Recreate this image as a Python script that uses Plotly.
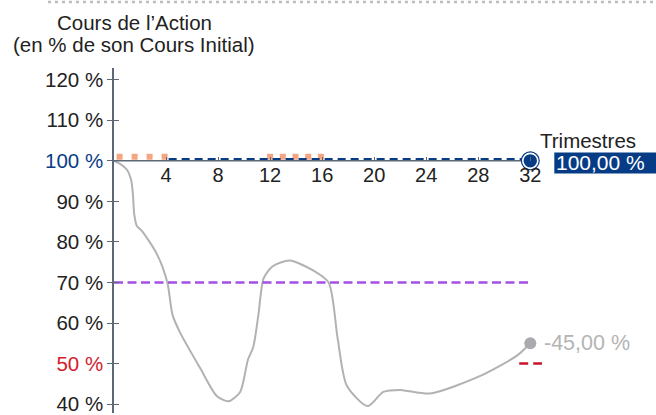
import plotly.graph_objects as go

# ---------------- data ----------------
path_q = [0, 0.5, 1.0, 1.3, 1.45, 1.55, 1.75, 2.2, 3.3, 4.1, 4.5, 5.1, 6.6, 7.9, 8.8, 9.7, 10.3,
          10.7, 11.1, 11.5, 12.2, 13.5, 15.3, 16.5, 17.2, 17.9, 19.5, 20.7, 22, 24.3, 28.2, 31, 32]
path_pct = [100, 99.2, 97.8, 95.5, 92, 87, 84, 82.5, 77, 70, 62, 57.5, 49, 42, 40.7, 43, 51,
            54, 62, 71, 74, 75.4, 73, 70, 56, 44.5, 39.5, 43, 43.5, 42.6, 47, 52, 55]

initial_level = 100
coupon_barrier = 70
capital_barrier = 50
final_q = 32
final_pct = 55
final_label = "-45,00 %"
autocall_label = "100,00 %"

obs_window1 = [0.2, 4.2]
obs_window2 = [11.77, 16.23]
autocall_line_q = [4.2, 32]
barrier_line_q = [0, 32]
capital_line_q = [31.15, 32.9]

x_ticks = [4, 8, 12, 16, 20, 24, 28, 32]
y_ticks = [40, 50, 60, 70, 80, 90, 100, 110, 120]
y_tick_text = ["40 %", "<span style='color:#d4202c'>50 %</span>", "60 %", "70 %", "80 %",
               "90 %", "<span style='color:#0a3d87'>100 %</span>", "110 %", "120 %"]

title_line1 = "Cours de l\u2019Action"
title_line2 = "(en % de son Cours Initial)"
x_title = "Trimestres"

# ---------------- style ----------------
NAVY = "#063c85"
ORANGE = "#f4a582"
PURPLE = "#a64ee6"
RED = "#c8152d"
GRAY = "#b2b2b2"
AXIS = "#5d6876"
TXT = "#222222"
FONT = "Liberation Sans"
ORANGE_OFFSET = 1.0
NAVY_OFFSET = 0.4

XR = [0, 32.9]
YR = [37.8, 122.9]
L, T = 114, 68
W, H = 656, 415
plot_w = (XR[1] - XR[0]) * 13
R = W - L - plot_w
plot_h = H - T


def py(px):
    """paper y for a pixel row measured from the top"""
    return 1 + (T - px) / plot_h


def pxx(px):
    """paper x for a pixel column"""
    return (px - L) / plot_w


fig = go.Figure()

# stock path
fig.add_trace(go.Scatter(x=path_q, y=path_pct, mode="lines",
                         line=dict(color=GRAY, width=2, shape="spline", smoothing=0.7),
                         hoverinfo="skip", showlegend=False))
# coupon barrier
fig.add_trace(go.Scatter(x=barrier_line_q, y=[coupon_barrier] * 2, mode="lines",
                         line=dict(color=PURPLE, width=2.6, dash="9px,4.5px"),
                         showlegend=False))
# capital barrier
fig.add_trace(go.Scatter(x=capital_line_q, y=[capital_barrier] * 2, mode="lines",
                         line=dict(color=RED, width=2.6, dash="9px,5px"),
                         showlegend=False))
# observation windows
for win, dash in ((obs_window1, "6px,9px"), (obs_window2, "6px,6.7px")):
    fig.add_trace(go.Scatter(x=win, y=[initial_level + ORANGE_OFFSET] * 2, mode="lines",
                             line=dict(color=ORANGE, width=6, dash=dash), showlegend=False))
# autocall line
fig.add_trace(go.Scatter(x=autocall_line_q, y=[initial_level + NAVY_OFFSET] * 2, mode="lines",
                         line=dict(color=NAVY, width=2.6, dash="8px,5px"), showlegend=False))
# x-axis baseline at 100 %
fig.add_trace(go.Scatter(x=[0, final_q], y=[initial_level] * 2, mode="lines",
                         line=dict(color=AXIS, width=1.5), showlegend=False))
# final markers
fig.add_trace(go.Scatter(x=[final_q], y=[final_pct], mode="markers",
                         marker=dict(color="#a9abae", size=12), showlegend=False))
fig.add_trace(go.Scatter(x=[final_q], y=[initial_level], mode="markers",
                         marker=dict(color=NAVY, size=19), showlegend=False))
fig.add_trace(go.Scatter(x=[final_q], y=[initial_level], mode="markers",
                         marker=dict(color=NAVY, size=15, line=dict(color="white", width=1.6)),
                         showlegend=False))
# invisible trace for the inside-tick overlay axis
fig.add_trace(go.Scatter(x=[0], y=[initial_level], yaxis="y2", mode="markers",
                         marker=dict(opacity=0), hoverinfo="skip", showlegend=False))

fig.update_layout(
    width=W, height=H,
    margin=dict(l=L, r=R, t=T, b=0, pad=0),
    paper_bgcolor="white", plot_bgcolor="white",
    font=dict(family=FONT, size=20, color=TXT),
    xaxis=dict(range=XR, anchor="free", position=(initial_level - YR[0]) / (YR[1] - YR[0]),
               tickvals=x_ticks, ticktext=[str(v) for v in x_ticks],
               ticks="inside", ticklen=4, tickcolor=AXIS, tickwidth=1.2,
               showline=False, showgrid=False, zeroline=False,
               tickfont=dict(family=FONT, size=20, color=TXT)),
    yaxis=dict(range=YR, tickvals=y_ticks, ticktext=y_tick_text,
               ticks="outside", ticklen=5, tickcolor=AXIS, tickwidth=1.2,
               showline=True, linecolor=AXIS, linewidth=1.5,
               showgrid=False, zeroline=False, ticklabeloverflow="allow",
               tickfont=dict(family=FONT, size=20.5, color=TXT)),
    yaxis2=dict(range=YR, overlaying="y", tickvals=y_ticks, showticklabels=False,
                ticks="inside", ticklen=5, tickcolor=AXIS, tickwidth=1.2,
                showline=False, showgrid=False, zeroline=False),
)

# top dotted border
fig.add_shape(type="line", xref="paper", yref="paper",
              x0=pxx(48), x1=pxx(W), y0=py(1.5), y1=py(1.5),
              line=dict(color="#bdbdbd", width=2.5, dash="3px,4px"))
# navy label box
fig.add_shape(type="rect", xref="paper", yref="paper",
              x0=pxx(554), x1=pxx(W), y0=py(174), y1=py(153),
              fillcolor=NAVY, line=dict(width=0))

fig.add_annotation(xref="paper", yref="paper", x=pxx(134), y=py(22.5),
                   xanchor="center", yanchor="middle", showarrow=False, text=title_line1,
                   font=dict(family=FONT, size=20.5, color=TXT))
fig.add_annotation(xref="paper", yref="paper", x=pxx(134), y=py(44.5),
                   xanchor="center", yanchor="middle", showarrow=False, text=title_line2,
                   font=dict(family=FONT, size=20.5, color=TXT))
fig.add_annotation(x=final_q, y=initial_level, xanchor="left", yanchor="middle",
                   xshift=8, yshift=20, showarrow=False, text=x_title,
                   font=dict(family=FONT, size=20.5, color=TXT))
fig.add_annotation(x=final_q, y=initial_level, xanchor="left", yanchor="middle",
                   xshift=24, yshift=-2, showarrow=False, text=autocall_label,
                   font=dict(family=FONT, size=21, color="white"))
fig.add_annotation(x=final_q, y=final_pct, xanchor="left", yanchor="middle",
                   xshift=12, showarrow=False, text=final_label,
                   font=dict(family=FONT, size=21.5, color="#b4b4b4"))

fig.write_html("out.html", config={"displayModeBar": False},
               post_script="document.body.style.margin='0';")
